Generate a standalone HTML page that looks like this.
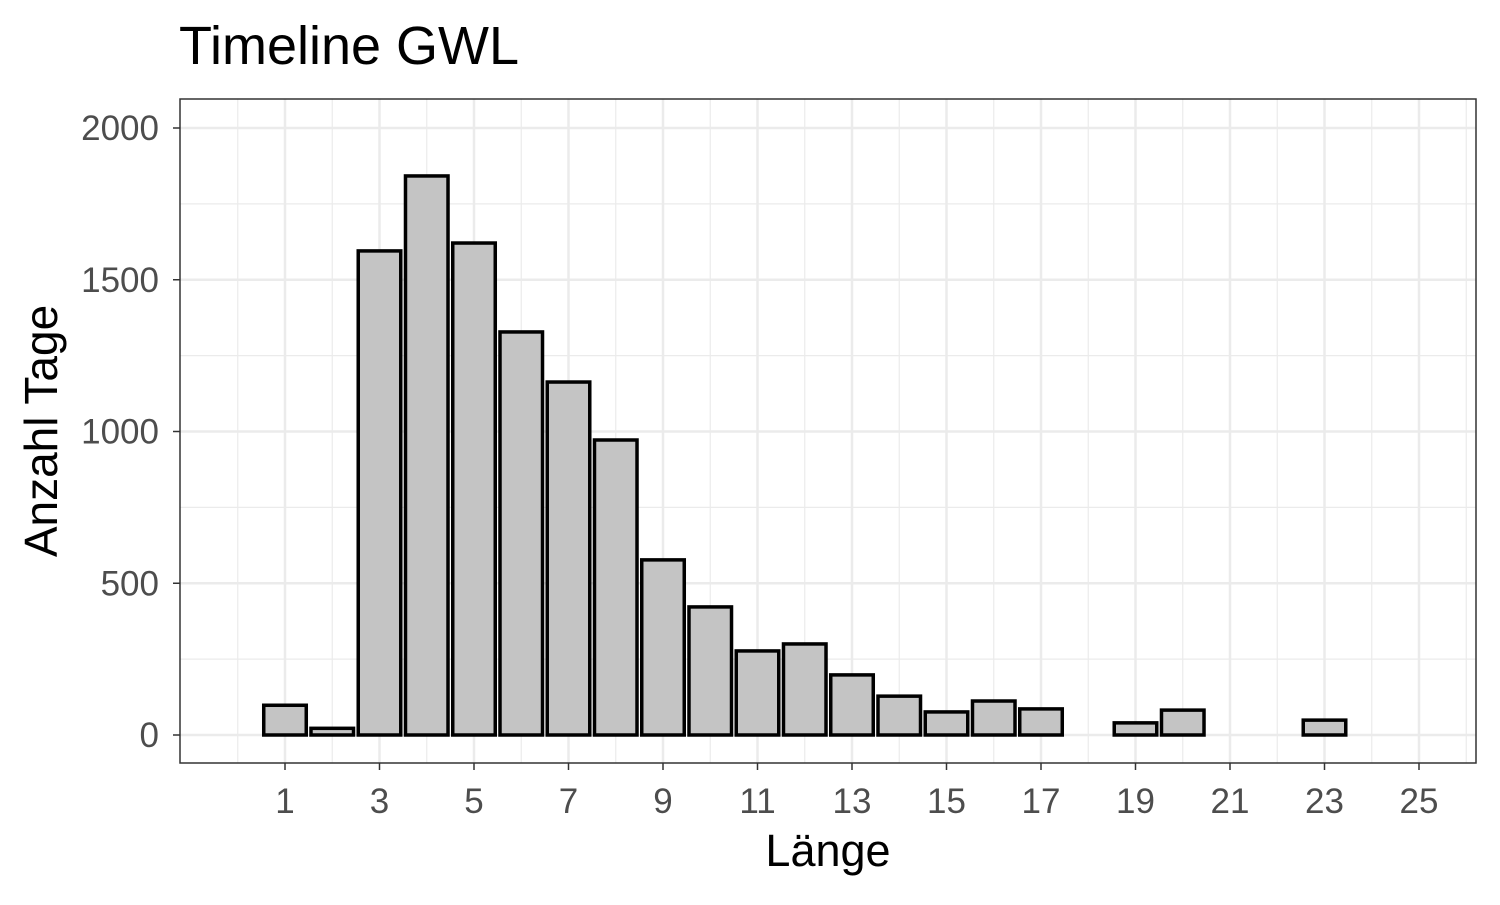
<!DOCTYPE html>
<html><head><meta charset="utf-8"><style>
body{margin:0;background:#fff;}
svg text{font-family:"Liberation Sans",sans-serif;}
</style></head><body>
<svg id="chart" width="1500" height="900" xmlns="http://www.w3.org/2000/svg">
<text x="179" y="64" font-size="54" fill="#000">Timeline GWL</text>
<g id="grid"></g><g id="bars"></g><g id="axes"></g>
<rect x="180" y="99" width="1296" height="664" fill="none" stroke="#333" stroke-width="1.5"/>
<text x="828" y="866" font-size="45" text-anchor="middle" fill="#000">Länge</text>
<text transform="translate(57,431) rotate(-90)" font-size="46" text-anchor="middle" fill="#000">Anzahl Tage</text>
</svg>
<script>
const categories=[1,2,3,4,5,6,7,8,9,10,11,12,13,14,15,16,17,19,20,23];
const counts=[98,22,1595,1842,1621,1328,1163,972,577,422,277,300,198,128,76,112,86,40,82,49];
const xTicks=[1,3,5,7,9,11,13,15,17,19,21,23,25];
const yTicks=[0,500,1000,1500,2000];
const NS="http://www.w3.org/2000/svg";
const sx=v=>285+(v-1)*47.25;
const sy=v=>735-v*0.3035;
function mk(tag,attrs,parent){const e=document.createElementNS(NS,tag);for(const k in attrs)e.setAttribute(k,attrs[k]);parent.appendChild(e);return e;}
const grid=document.getElementById('grid'),bars=document.getElementById('bars'),axes=document.getElementById('axes');
mk('rect',{x:180,y:99,width:1296,height:664,fill:'#fff'},grid);
for(let v=0;v<=26;v+=2){const l=mk('line',{x1:sx(v),x2:sx(v),y1:99,y2:763,stroke:'#ebebeb','stroke-width':1.2},grid);

}
for(let v=250;v<2100;v+=500){const l=mk('line',{x1:180,x2:1476,y1:sy(v),y2:sy(v),stroke:'#ebebeb','stroke-width':1.2},grid);

}
xTicks.forEach(v=>{const l=mk('line',{x1:sx(v),x2:sx(v),y1:99,y2:763,stroke:'#ebebeb','stroke-width':2.5},grid);


mk('line',{x1:sx(v),x2:sx(v),y1:763,y2:770,stroke:'#333','stroke-width':1.5},axes);
const t=mk('text',{x:sx(v),y:813,'font-size':35,'text-anchor':'middle',fill:'#4d4d4d'},axes);t.textContent=v;

});
yTicks.forEach(v=>{const l=mk('line',{x1:180,x2:1476,y1:sy(v),y2:sy(v),stroke:'#ebebeb','stroke-width':2.5},grid);


mk('line',{x1:173,x2:180,y1:sy(v),y2:sy(v),stroke:'#333','stroke-width':1.5},axes);
const t=mk('text',{x:159,y:sy(v)+12,'font-size':35,'text-anchor':'end',fill:'#4d4d4d'},axes);t.textContent=v;

});
categories.forEach((c,i)=>{const w=0.9*47.25;const r=mk('rect',{x:sx(c)-w/2,y:sy(counts[i]),width:w,height:sy(0)-sy(counts[i]),fill:'#c4c4c4',stroke:'#000','stroke-width':3.5},bars);

});
</script>
</body></html>
